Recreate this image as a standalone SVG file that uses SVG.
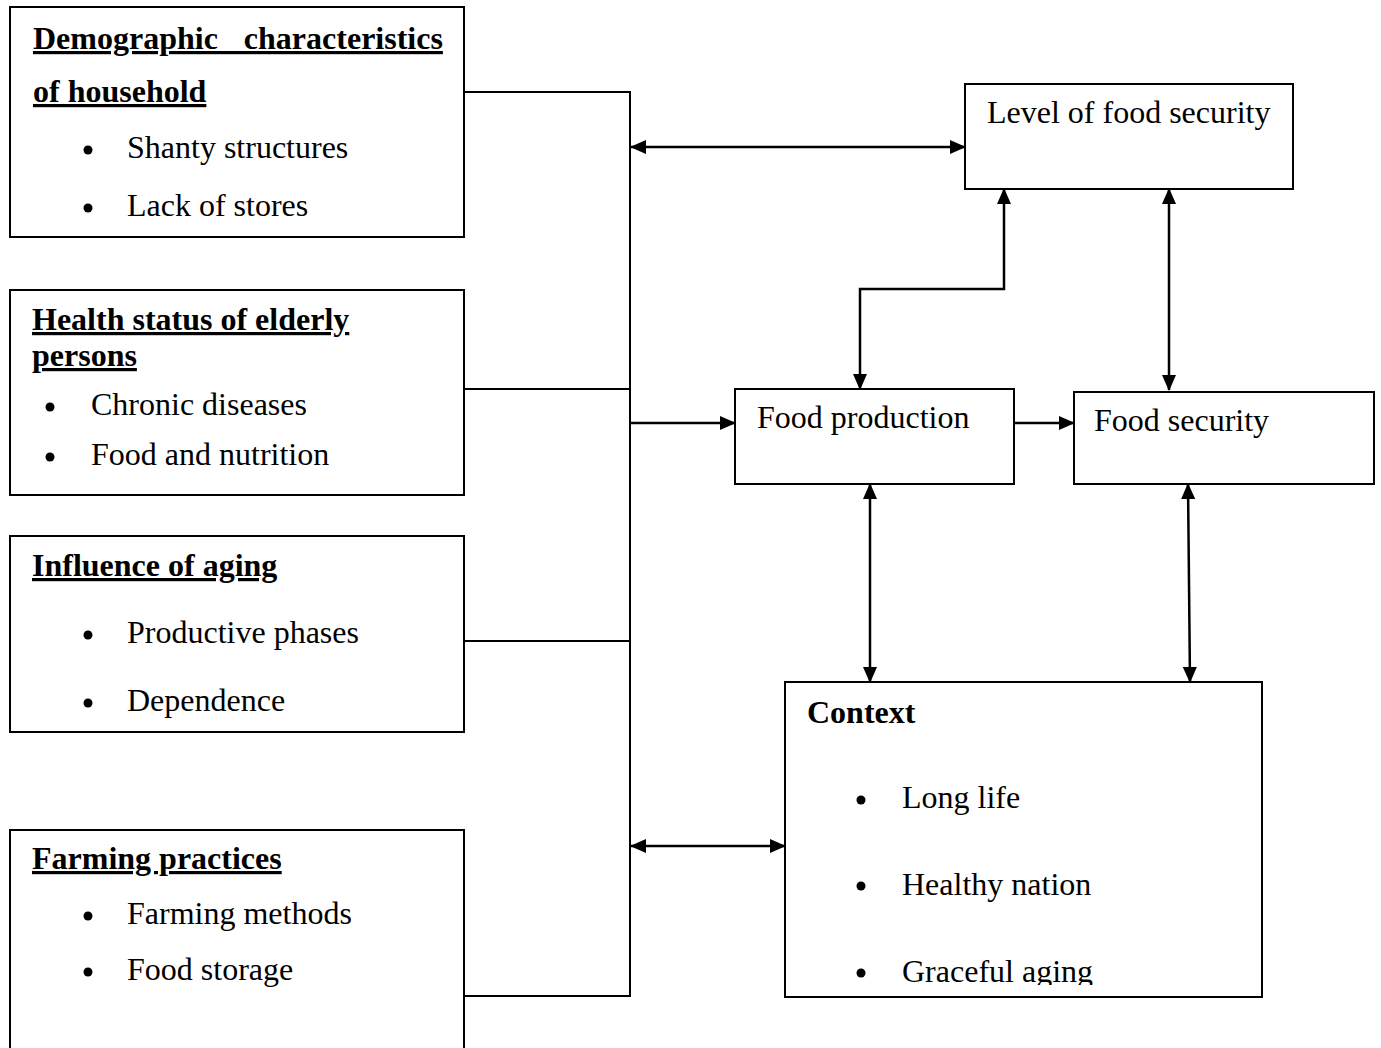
<svg xmlns="http://www.w3.org/2000/svg" width="1381" height="1048" viewBox="0 0 1381 1048">
<style>
.box{fill:#fff;stroke:#000;stroke-width:2}
.t{font-family:"Liberation Serif","Times New Roman",serif;font-size:32px;fill:#000}
.h{font-family:"Liberation Serif","Times New Roman",serif;font-size:32px;font-weight:bold;fill:#000;text-decoration:underline}
.b{font-family:"Liberation Serif","Times New Roman",serif;font-size:32px;font-weight:bold;fill:#000}
.c{fill:none;stroke:#000;stroke-width:2}
.a{fill:none;stroke:#000;stroke-width:2.5;marker-end:url(#ah)}
.d{fill:none;stroke:#000;stroke-width:2.5;marker-end:url(#ah);marker-start:url(#ah)}
</style>
<defs>
<marker id="ah" viewBox="0 0 16 14" refX="15" refY="7" markerWidth="16" markerHeight="14" markerUnits="userSpaceOnUse" orient="auto-start-reverse">
<path d="M0,0 L16,7 L0,14 z" fill="#000"/>
</marker>
<clipPath id="ctxclip"><rect x="785" y="682" width="477" height="303"/></clipPath>
</defs>
<rect width="1381" height="1048" fill="#fff"/>

<g id="connectors">
<polyline class="c" points="464,92 630,92 630,996 464,996"/>
<line class="c" x1="464" y1="389" x2="630" y2="389"/>
<line class="c" x1="464" y1="641" x2="630" y2="641"/>
<line class="d" x1="631" y1="147" x2="965" y2="147"/>
<line class="a" x1="631" y1="423" x2="735" y2="423"/>
<line class="a" x1="1014" y1="423" x2="1074" y2="423"/>
<line class="d" x1="631" y1="846" x2="785" y2="846"/>
<polyline class="d" points="1004,189 1004,289 860,289 860,389"/>
<line class="d" x1="1169" y1="189" x2="1169" y2="390"/>
<line class="d" x1="870" y1="484" x2="870" y2="682"/>
<line class="d" x1="1188" y1="484" x2="1190" y2="682"/>
</g>

<g id="demographic">
<rect class="box" x="10" y="7" width="454" height="230"/>
<text class="h" x="33" y="49" word-spacing="18">Demographic characteristics</text>
<text class="h" x="33" y="102">of household</text>
<circle cx="88" cy="150" r="4.5"/>
<text class="t" x="127" y="158">Shanty structures</text>
<circle cx="88" cy="208" r="4.5"/>
<text class="t" x="127" y="216">Lack of stores</text>
</g>

<g id="health">
<rect class="box" x="10" y="290" width="454" height="205"/>
<text class="h" x="32" y="330">Health status of elderly</text>
<text class="h" x="32" y="366">persons</text>
<circle cx="50" cy="407" r="4.5"/>
<text class="t" x="91" y="415">Chronic diseases</text>
<circle cx="50" cy="457" r="4.5"/>
<text class="t" x="91" y="465">Food and nutrition</text>
</g>

<g id="aging">
<rect class="box" x="10" y="536" width="454" height="196"/>
<text class="h" x="32" y="576">Influence of aging</text>
<circle cx="88" cy="635" r="4.5"/>
<text class="t" x="127" y="643">Productive phases</text>
<circle cx="88" cy="703" r="4.5"/>
<text class="t" x="127" y="711">Dependence</text>
</g>

<g id="farming">
<rect class="box" x="10" y="830" width="454" height="240"/>
<text class="h" x="32" y="869">Farming practices</text>
<circle cx="88" cy="916" r="4.5"/>
<text class="t" x="127" y="924">Farming methods</text>
<circle cx="88" cy="972" r="4.5"/>
<text class="t" x="127" y="980">Food storage</text>
</g>

<g id="level">
<rect class="box" x="965" y="84" width="328" height="105"/>
<text class="t" x="987" y="123">Level of food security</text>
</g>

<g id="production">
<rect class="box" x="735" y="389" width="279" height="95"/>
<text class="t" x="757" y="428">Food production</text>
</g>

<g id="security">
<rect class="box" x="1074" y="392" width="300" height="92"/>
<text class="t" x="1094" y="431">Food security</text>
</g>

<g id="context">
<rect class="box" x="785" y="682" width="477" height="315"/>
<text class="b" x="807" y="723">Context</text>
<g clip-path="url(#ctxclip)">
<circle cx="861" cy="800" r="4.5"/>
<text class="t" x="902" y="808">Long life</text>
<circle cx="861" cy="886" r="4.5"/>
<text class="t" x="902" y="895">Healthy nation</text>
<circle cx="861" cy="973" r="4.5"/>
<text class="t" x="902" y="982">Graceful aging</text>
</g>
</g>
</svg>
